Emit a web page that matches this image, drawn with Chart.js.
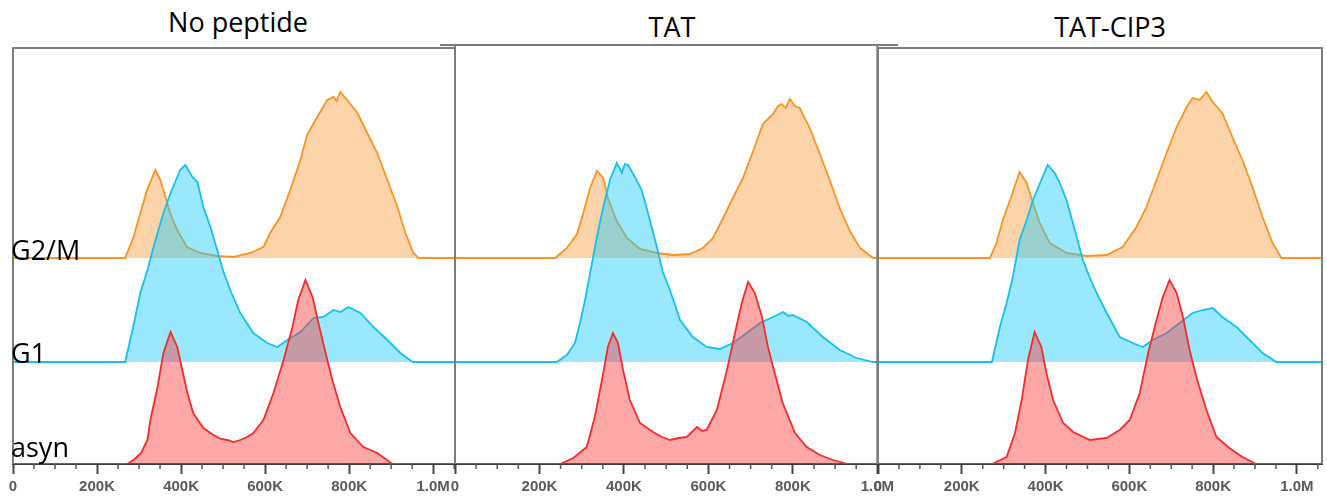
<!DOCTYPE html>
<html>
<head>
<meta charset="utf-8">
<script src="https://cdn.jsdelivr.net/npm/chart.js@4.4.1/dist/chart.umd.min.js"></script>
<style>
  body { margin: 0; background: #fff; }
  #figura { position: relative; width: 1327px; height: 502px; overflow: hidden; background: #fff; }
  .titulo { position: absolute; font-family: 'Open Sans', sans-serif; font-size: 27px; color: #000;
            transform: translateX(-50%); white-space: nowrap; line-height: normal; }
  canvas { position: absolute; top: 0; }
</style>
</head>
<body>
<div id="figura">
  <div class="titulo" style="left:238px; top:3px;">No peptide</div>
  <div class="titulo" style="left:672px; top:8px;">TAT</div>
  <div class="titulo" style="left:1110px; top:8px;">TAT-CIP3</div>
  <canvas id="panel-sin-peptido" width="482" height="502" style="left:-7px;"></canvas>
  <canvas id="panel-tat" width="463" height="502" style="left:435px;"></canvas>
  <canvas id="panel-tat-cip3" width="484" height="502" style="left:858px;"></canvas>
</div>
<script>
// Eje X: contenido de ADN (en miles)
const tickValues = [0, 200, 400, 600, 800, 1000];
const tickLabels = ['0', '200K', '400K', '600K', '800K', '1.0M'];
const seriesLabels = ['asyn', 'G1', 'G2/M'];

// Histogramas [DNA (K), conteo]
const noPeptideAsyn = [[0,0],[272,0],[290,5],[305,11],[320,24],[327,44],[344,77],[358,111],[375,132],[391,117],[403,94],[415,71],[429,51],[453,36],[477,29],[495,25],[510,24],[525,22],[541,24],[557,27],[572,31],[596,44],[620,71],[644,104],[665,137],[679,164],[696,184],[713,167],[727,141],[744,111],[760,84],[779,57],[803,31],[834,17],[867,11],[903,0],[1052,0]];
const noPeptideG1 = [[0,0],[267,0],[286,35],[303,69],[320,92],[339,122],[358,149],[375,169],[398,192],[410,197],[427,185],[439,180],[453,155],[470,135],[486,112],[501,90],[517,72],[541,49],[572,29],[605,19],[629,15],[653,22],[684,30],[715,44],[739,45],[763,52],[780,50],[798,55],[827,49],[858,35],[891,22],[922,9],[951,0],[1052,0]];
const noPeptideG2M = [[0,0],[267,0],[287,21],[303,45],[319,68],[339,88],[351,78],[363,61],[374,45],[391,28],[414,11],[446,5],[486,2],[525,1],[565,5],[596,11],[612,25],[636,41],[660,68],[684,98],[700,123],[724,141],[748,158],[763,161],[770,157],[779,166],[799,156],[820,145],[843,125],[867,105],[891,78],[915,51],[934,25],[953,5],[965,0],[1052,0]];

const tatAsyn = [[0,0],[249,0],[280,6],[312,17],[331,47],[348,84],[362,117],[374,131],[386,121],[398,94],[414,64],[438,41],[469,32],[490,27],[509,24],[530,26],[549,27],[573,37],[585,33],[596,34],[620,54],[644,94],[663,131],[679,161],[694,182],[710,171],[727,147],[741,117],[757,91],[776,61],[805,31],[833,17],[864,9],[895,4],[930,0],[1000,0]];
const tatG1 = [[0,0],[241,0],[265,7],[284,19],[296,39],[308,62],[320,89],[336,125],[351,155],[367,182],[383,199],[395,189],[402,198],[410,197],[426,185],[442,172],[457,149],[478,115],[492,90],[509,72],[533,42],[563,25],[596,15],[627,13],[658,19],[691,29],[722,39],[753,45],[777,50],[790,46],[800,47],[833,40],[871,25],[911,12],[951,4],[990,0],[1000,0]];
const tatG2M = [[0,0],[237,0],[265,10],[289,24],[303,44],[320,70],[336,87],[351,80],[362,60],[383,37],[407,20],[438,9],[478,5],[516,3],[556,4],[587,10],[611,20],[635,40],[658,60],[682,80],[706,107],[729,134],[753,144],[765,152],[773,154],[783,150],[793,159],[805,152],[816,150],[840,130],[864,104],[888,77],[911,50],[935,27],[959,10],[990,0],[1000,0]];

const tatCip3Asyn = [[0,0],[272,0],[307,7],[327,31],[343,64],[358,104],[374,132],[390,117],[402,91],[418,64],[442,41],[466,32],[506,24],[546,26],[577,34],[601,44],[625,71],[645,111],[665,144],[680,167],[696,184],[713,171],[728,147],[744,114],[760,87],[784,54],[808,27],[839,16],[870,7],[903,0],[1060,0]];
const tatCip3G1 = [[0,0],[272,0],[291,35],[307,59],[322,85],[338,122],[355,142],[370,162],[390,182],[405,197],[422,189],[434,179],[450,162],[470,132],[489,102],[505,85],[522,69],[546,49],[577,25],[608,19],[632,15],[656,22],[689,29],[720,39],[751,49],[775,52],[799,54],[822,45],[856,35],[887,22],[918,9],[951,0],[1060,0]];
const tatCip3G2M = [[0,0],[267,0],[283,15],[298,38],[318,61],[338,86],[355,75],[370,55],[386,35],[410,15],[450,5],[498,2],[546,3],[584,11],[617,31],[641,51],[665,78],[689,105],[713,131],[737,151],[751,160],[768,158],[784,166],[799,156],[822,145],[846,121],[870,98],[894,71],[918,41],[942,15],[963,0],[1060,0]];

// Desplazamiento vertical de cada histograma (apilado)
const desplazamientos = [0, 102, 206];
const estilos = [
  { borde: 'rgb(240, 45, 45)', relleno: 'rgba(250, 60, 60, 0.45)' },
  { borde: 'rgb(25, 190, 240)', relleno: 'rgba(30, 205, 250, 0.45)' },
  { borde: 'rgb(247, 148, 35)', relleno: 'rgba(251, 150, 50, 0.42)' }
];

/**
 * Dibuja el marco del panel (arriba, izquierda, derecha) y los ticks menores
 */
const marcoPanel = {
  id: 'marcoPanel',
  afterDraw(chart, args, opts) {
    const { ctx, chartArea: a, scales: { x } } = chart;
    ctx.save();
    ctx.strokeStyle = '#7c7c7c';
    ctx.lineWidth = 2;
    ctx.beginPath();
    ctx.moveTo(a.left, a.bottom);
    ctx.lineTo(a.left, a.top);
    ctx.lineTo(a.right, a.top);
    ctx.lineTo(a.right, a.bottom);
    ctx.stroke();
    // La línea superior del panel central sobresale un poco
    if (opts.extIzq || opts.extDer) {
      ctx.beginPath();
      ctx.moveTo(a.left - (opts.extIzq || 0), a.top);
      ctx.lineTo(a.right + (opts.extDer || 0), a.top);
      ctx.stroke();
    }
    // Ticks menores cada 50K
    ctx.strokeStyle = '#555';
    ctx.lineWidth = 1.5;
    for (let v = 50; v < x.max; v += 50) {
      if (v % 200 === 0) continue;
      const px = x.getPixelForValue(v);
      ctx.beginPath();
      ctx.moveTo(px, a.bottom);
      ctx.lineTo(px, a.bottom + 5);
      ctx.stroke();
    }
    ctx.restore();
  }
};

/**
 * Escribe los nombres de las series en el primer panel
 */
const etiquetasSeries = {
  id: 'etiquetasSeries',
  afterDraw(chart) {
    const { ctx, scales: { y } } = chart;
    const ajustes = [-7, 1, 2];
    ctx.save();
    ctx.fillStyle = '#000';
    ctx.font = '27px "Open Sans"';
    ctx.textBaseline = 'alphabetic';
    seriesLabels.forEach((texto, i) => {
      ctx.fillText(texto, 18, y.getPixelForValue(desplazamientos[i]) + ajustes[i]);
    });
    ctx.restore();
  }
};

/**
 * Genera un panel de histogramas apilados
 * @param {string} id - id del canvas
 * @param {Array} series - [asyn, G1, G2/M]
 * @param {number} xMax - límite del eje X (K)
 * @param {number} arriba - borde superior del área del gráfico
 * @param {Array} extras - plugins adicionales
 * @param {Object} marco - opciones del marco
 */
function generarPanel(id, series, xMax, arriba, extras, marco) {
  const canvas = document.getElementById(id);
  if (!canvas) return;

  const datasets = series.map((serie, i) => ({
    data: serie.map(([x, h]) => ({ x: x, y: desplazamientos[i] + h })),
    borderColor: estilos[i].borde,
    backgroundColor: estilos[i].relleno,
    fill: { value: desplazamientos[i] },
    borderWidth: 1.8,
    pointRadius: 0,
    tension: 0
  }));

  return new Chart(canvas, {
    type: 'line',
    data: { datasets: datasets },
    options: {
      responsive: false,
      animation: false,
      layout: { padding: { left: 20, right: 20, top: arriba, bottom: 0 } },
      plugins: {
        legend: { display: false },
        tooltip: { enabled: false },
        marcoPanel: marco || {}
      },
      scales: {
        x: {
          type: 'linear',
          min: 0,
          max: xMax,
          afterBuildTicks: scale => {
            scale.ticks = tickValues.map(v => ({ value: v }));
          },
          afterFit: scale => { scale.height = 38; },
          grid: {
            drawOnChartArea: false,
            drawTicks: true,
            tickLength: 10,
            tickWidth: 2,
            tickColor: '#444'
          },
          border: { display: true, color: '#3a3a3a', width: 2 },
          ticks: {
            autoSkip: false,
            maxRotation: 0,
            padding: 4,
            color: '#5a5a5a',
            font: { family: '"Liberation Sans", Arial, sans-serif', size: 15, weight: 'bold' },
            callback: value => tickLabels[tickValues.indexOf(value)]
          }
        },
        y: {
          display: false,
          min: 0,
          max: 464 - arriba
        }
      }
    },
    plugins: [marcoPanel].concat(extras)
  });
}

generarPanel('panel-sin-peptido', [noPeptideAsyn, noPeptideG1, noPeptideG2M], 1052, 48, [etiquetasSeries]);
generarPanel('panel-tat', [tatAsyn, tatG1, tatG2M], 1000, 45, [], { extIzq: 15, extDer: 22 });
generarPanel('panel-tat-cip3', [tatCip3Asyn, tatCip3G1, tatCip3G2M], 1060, 48, []);
</script>
</body>
</html>
